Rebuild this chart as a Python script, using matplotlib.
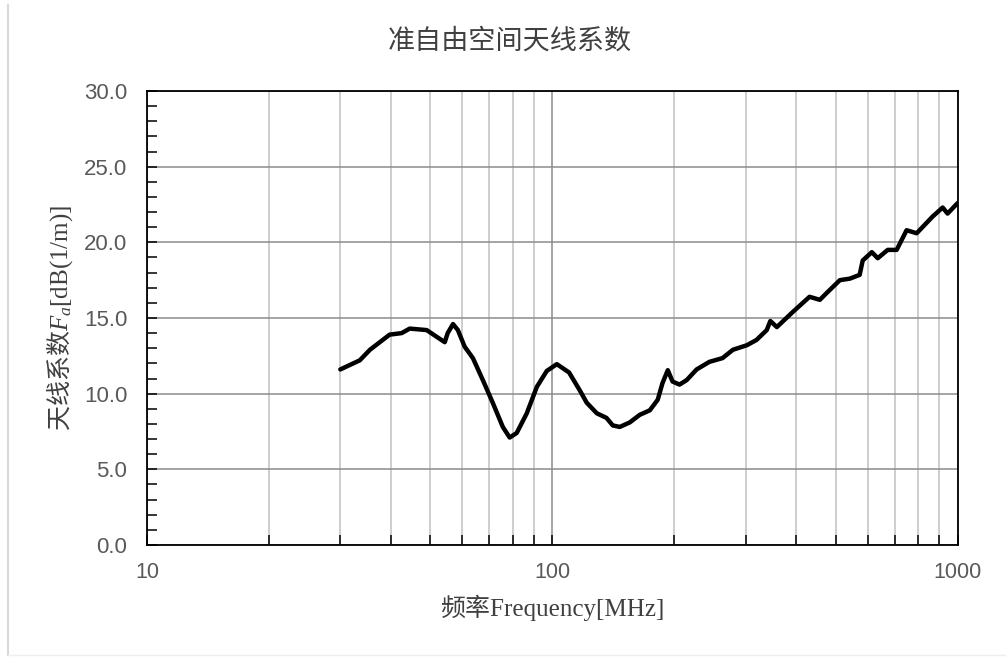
import numpy as np
import matplotlib
matplotlib.use('Agg')
import matplotlib.pyplot as plt
from matplotlib.ticker import LogLocator, FixedLocator, MultipleLocator, FuncFormatter
from matplotlib.lines import Line2D

# antenna factor readings, MHz vs dB(1/m)
freq = [30, 33.5, 35.5, 39.7, 42.5, 44.5, 49, 51.9, 54.3, 55.2, 56.9, 58.5,
        60.8, 63.7, 67.4, 71.3, 75.5, 78.5, 81.7, 86.5, 91.6, 96.9, 102.6,
        110, 117, 121.6, 128.8, 136, 141, 146.7, 155.3, 164.3, 174, 182,
        187, 192.7, 198, 206, 214.6, 227, 244, 263, 279, 302, 319, 338,
        345, 358, 392, 431, 457, 475, 512, 542, 573, 583, 614, 635, 672,
        707, 748, 792, 867, 918, 944, 1000]
fa = [11.6, 12.2, 12.9, 13.9, 14.0, 14.3, 14.2, 13.75, 13.4, 14.0, 14.6, 14.2,
      13.1, 12.35, 10.9, 9.4, 7.8, 7.1, 7.4, 8.7, 10.45, 11.5, 11.95,
      11.4, 10.2, 9.4, 8.7, 8.4, 7.9, 7.8, 8.1, 8.6, 8.9, 9.6,
      10.7, 11.55, 10.8, 10.6, 10.9, 11.6, 12.1, 12.35, 12.9, 13.2, 13.55, 14.2,
      14.8, 14.4, 15.4, 16.4, 16.2, 16.65, 17.5, 17.6, 17.85, 18.8, 19.35, 18.95, 19.5,
      19.5, 20.8, 20.6, 21.7, 22.3, 21.9, 22.6]

cjk = ['Liberation Serif', 'Noto Sans CJK SC']

# math fonts: serif roman/italic, CJK via \mathsf
plt.rcParams['mathtext.fontset'] = 'custom'
plt.rcParams['mathtext.rm'] = 'Liberation Serif'
plt.rcParams['mathtext.it'] = 'Liberation Serif:italic'
plt.rcParams['mathtext.sf'] = 'Noto Sans CJK SC'

fig = plt.figure(figsize=(10.06, 6.57), dpi=100)
ax = fig.add_axes([0.146, 0.1705, 0.806, 0.691])

ax.plot(freq, fa, color='black', lw=3.2, solid_joinstyle='round',
        solid_capstyle='round', zorder=3)

ax.set_xscale('log')
ax.set_xlim(10, 1000)
ax.set_ylim(0, 30)
ax.xaxis.set_major_locator(FixedLocator([10, 100, 1000]))
ax.xaxis.set_minor_locator(LogLocator(base=10, subs=np.arange(2, 10)))
ax.xaxis.set_major_formatter(FuncFormatter(lambda v, p: '%d' % v))
ax.xaxis.set_minor_formatter(FuncFormatter(lambda v, p: ''))
ax.yaxis.set_major_locator(MultipleLocator(5))
ax.yaxis.set_minor_locator(MultipleLocator(1))
ax.yaxis.set_major_formatter(FuncFormatter(lambda v, p: '%.1f' % v))

ax.grid(True, which='major', axis='both', color='#8c8c8c', lw=1.1)
ax.grid(True, which='minor', axis='x', color='#c0c0c0', lw=1.1)
ax.set_axisbelow(True)

ax.tick_params(axis='both', which='both', direction='in', colors='black',
               labelcolor='#595959', length=7, width=1.1)
ax.tick_params(axis='y', which='major', pad=14, labelsize=16)
ax.tick_params(axis='x', which='major', pad=12, labelsize=15.5)
for lab in ax.get_xticklabels() + ax.get_yticklabels():
    lab.set_family('Liberation Sans')
for s in ax.spines.values():
    s.set_color('black')
    s.set_linewidth(1.3)

fig.text(0.507, 0.936, '准自由空间天线系数', ha='center', va='center',
         fontsize=19.5, color='#404040', family=cjk)
fig.text(0.549, 0.075, '频率Frequency[MHz]', ha='center', va='center',
         fontsize=18, color='#404040', family=cjk)
fig.text(0.060, 0.516, r'$\mathsf{天线系数}\mathit{F}_{\mathit{a}}\mathrm{[dB(1/m)]}$',
         ha='center', va='center', rotation=90, fontsize=18, color='#404040')

# thin border at left and bottom of the sheet
fig.add_artist(Line2D([0.008, 0.008], [0.003, 0.992], color='#d9d9d9', lw=1.5,
                      transform=fig.transFigure))
fig.add_artist(Line2D([0.008, 1.0], [0.003, 0.003], color='#eeeeee', lw=1.0,
                      transform=fig.transFigure))

fig.savefig('out.png', dpi=100)
